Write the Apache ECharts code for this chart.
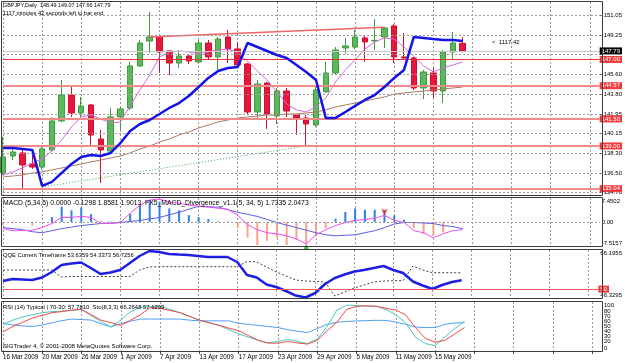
<!DOCTYPE html>
<html>
<head>
<meta charset="utf-8">
<script src="https://cdn.jsdelivr.net/npm/echarts@6/dist/echarts.min.js"></script>
<style>
  html, body { margin: 0; padding: 0; background: #fff; }
  #chart { width: 625px; height: 363px; }
</style>
</head>
<body>
<div id="chart"></div>
<script>
// GBPJPY daily bars, 16 Mar 2009 .. 20 May 2009
const dates = [
  "16 Mar 2009", "17 Mar 2009", "18 Mar 2009", "19 Mar 2009", "20 Mar 2009",
  "23 Mar 2009", "24 Mar 2009", "25 Mar 2009", "26 Mar 2009", "27 Mar 2009",
  "30 Mar 2009", "31 Mar 2009", "1 Apr 2009", "2 Apr 2009", "3 Apr 2009",
  "6 Apr 2009", "7 Apr 2009", "8 Apr 2009", "9 Apr 2009", "10 Apr 2009",
  "13 Apr 2009", "14 Apr 2009", "15 Apr 2009", "16 Apr 2009", "17 Apr 2009",
  "20 Apr 2009", "21 Apr 2009", "22 Apr 2009", "23 Apr 2009", "24 Apr 2009",
  "27 Apr 2009", "28 Apr 2009", "29 Apr 2009", "30 Apr 2009", "1 May 2009",
  "4 May 2009", "5 May 2009", "6 May 2009", "7 May 2009", "8 May 2009",
  "11 May 2009", "12 May 2009", "13 May 2009", "14 May 2009", "15 May 2009",
  "18 May 2009", "19 May 2009", "20 May 2009"
];
const futureSlots = 14;

const opens = [136.50, 138.07, 138.35, 137.33, 137.05, 138.63, 141.31, 143.71, 142.05, 142.79,
  139.64, 138.53, 141.68, 142.51, 146.40, 148.70, 149.08, 147.78, 146.67, 147.32,
  146.77, 148.52, 147.23, 149.08, 147.97, 146.58, 142.14, 144.82, 141.77, 144.08,
  141.86, 141.58, 140.94, 144.00, 145.75, 148.06, 148.15, 148.99, 148.72, 149.08,
  150.10, 147.23, 147.14, 144.36, 145.75, 144.08, 147.69, 148.49];
const closes = [137.98, 138.44, 137.24, 137.05, 138.72, 141.31, 143.71, 142.05, 142.70, 140.01,
  138.63, 141.68, 142.42, 146.40, 148.52, 149.08, 147.69, 146.67, 147.32, 146.86,
  148.52, 147.23, 148.89, 147.97, 146.49, 142.14, 144.73, 141.96, 144.08, 142.23,
  141.58, 141.03, 144.18, 145.75, 147.88, 148.25, 149.08, 148.62, 148.76, 149.91,
  147.23, 147.14, 144.36, 145.84, 144.08, 147.69, 148.52, 147.79];
const lows = [136.31, 137.70, 135.11, 136.87, 136.78, 138.44, 141.20, 141.68, 141.68, 138.90,
  135.57, 138.44, 140.48, 142.33, 146.30, 147.60, 145.75, 145.56, 146.21, 146.58,
  146.67, 146.95, 146.03, 146.67, 146.30, 141.86, 141.40, 140.57, 141.03, 141.68,
  140.01, 139.00, 140.75, 143.90, 145.56, 147.50, 147.97, 146.77, 147.88, 148.06,
  146.67, 146.95, 144.18, 143.34, 143.44, 142.97, 146.95, 147.66];
const highs = [139.83, 138.81, 138.81, 138.16, 138.90, 141.68, 145.10, 144.55, 143.53, 142.88,
  140.48, 142.51, 142.60, 146.77, 148.80, 151.39, 149.17, 147.87, 147.87, 147.41,
  148.80, 148.80, 149.08, 149.73, 148.62, 146.67, 145.10, 144.92, 144.36, 144.36,
  141.96, 141.86, 144.45, 146.77, 148.15, 148.99, 149.73, 149.26, 150.74, 150.00,
  150.28, 149.45, 147.23, 146.03, 146.21, 147.88, 149.54, 149.07];

// overlays on price
const blueTrail = [138.81, 138.81, 138.72, 138.63, 135.30, 135.67, 136.50, 137.33, 137.98, 138.16,
  138.07, 138.35, 139.27, 140.38, 141.03, 141.40, 141.95, 142.51, 142.97, 143.62,
  144.45, 145.29, 145.93, 146.21, 146.30, 148.52, 148.15, 147.78, 147.41, 147.14,
  146.49, 145.84, 145.10, 141.59, 141.59, 142.14, 142.70, 143.25, 143.71, 144.45,
  145.29, 146.03, 149.08, 148.99, 148.89, 148.80, 148.80, 148.71];
const fastMa = [136.31, 136.59, 136.96, 137.42, 137.79, 138.53, 139.55, 140.75, 141.68, 141.86,
  141.49, 141.12, 141.22, 142.70, 144.18, 145.56, 147.23, 147.69, 147.78, 147.69,
  147.51, 147.69, 147.88, 147.97, 147.60, 146.86, 145.93, 145.10, 143.99, 142.88,
  142.33, 142.14, 142.60, 143.44, 144.92, 146.03, 146.95, 147.97, 148.62, 148.99,
  148.89, 148.15, 147.32, 146.40, 145.84, 146.21, 146.49, 146.77];
const slowMa = [136.13, 136.22, 136.31, 136.50, 136.59, 136.78, 136.96, 137.15, 137.33, 137.52,
  137.70, 137.89, 138.07, 138.35, 138.72, 138.99, 139.36, 139.64, 140.01, 140.29,
  140.66, 140.94, 141.22, 141.40, 141.59, 141.68, 141.77, 141.86, 141.86, 141.96,
  141.96, 142.05, 142.14, 142.33, 142.60, 142.79, 142.97, 143.16, 143.34, 143.53,
  143.80, 143.90, 143.99, 144.08, 144.18, 144.27, 144.36, 144.45];
const supportTrend = [[4, 135.20], [31, 139.00]];
const resistTrend = [[15, 149.07], [39, 149.98]];

const levelLines = [147.00, 144.57, 141.50, 139.00, 135.04];
const bidPrice = 147.79;
const priceGrid = [134.70, 136.50, 138.30, 140.15, 141.95, 143.80, 145.60, 147.45, 149.25, 151.05];
const priceLabels = [134.70, 136.50, 138.30, 140.15, 141.95, 143.80, 145.60, 149.25, 151.05];

// MACD divergence panel
const macdHist = [-0.9, -0.4, 0, -1.1, 0, 1.5, 4.7, 3.6, 4.5, 2.4,
  0.2, 0.1, 0.3, 2.5, 5.5, 6.8, 6.3, 4.2, 3.6, 2.1,
  1.5, 0.9, 0.2, 0.1, -1.9, -4.9, -7.2, -5.9, -4.9, -7.2,
  -5.7, -7.0, -4.5, -1.9, 1.0, 3.1, 4.2, 3.8, 3.8, 3.6,
  2.0, 0.7, -1.9, -3.8, -4.3, -3.3, -0.6, -0.3];
const macdMain = [-2.10, -2.74, -2.74, -2.58, -1.78, -0.51, 1.40, 1.40, 1.72, 1.40,
  -0.51, -0.51, -0.19, 2.68, 5.22, 6.82, 7.13, 6.18, 5.86, 5.22,
  4.90, 4.59, 4.27, 3.95, 2.04, -0.83, -2.42, -3.38, -3.69, -4.33,
  -5.29, -6.88, -4.01, -2.42, -1.15, -0.19, 0.45, 0.76, 1.08, 2.04,
  0.45, -0.19, -2.74, -3.38, -4.97, -3.69, -2.74, -2.42];
const macdSignal = [-1.78, -2.10, -2.42, -3.06, -3.38, -2.74, -2.10, -1.62, -1.15, -0.83,
  -0.51, -0.35, -0.19, 0.13, 0.45, 0.92, 1.40, 2.20, 2.99, 3.95,
  4.90, 4.75, 4.59, 3.79, 2.99, 2.36, 1.72, 0.76, -0.19, -0.99,
  -1.78, -2.58, -3.38, -4.01, -4.33, -4.17, -4.01, -3.38, -2.74, -1.78,
  -0.67, -0.19, -0.19, -0.35, -0.51, -1.15, -1.46, -2.10];
const bullArrow = [[31, -7.0]];
const bearArrow = [[39, 2.2]];

// QQE panel
const qqeFast = [53.36, 54.19, 53.99, 53.78, 54.81, 57.09, 59.99, 60.61, 61.02, 58.75,
  56.26, 56.88, 57.92, 60.82, 63.71, 65.78, 65.37, 64.54, 64.33, 64.13,
  63.71, 63.30, 63.30, 63.30, 61.23, 55.85, 54.81, 51.92, 50.88, 49.23,
  47.36, 46.54, 48.40, 52.12, 54.61, 56.05, 57.30, 57.92, 58.75, 59.57,
  57.92, 56.68, 53.16, 51.50, 50.05, 51.71, 52.95, 53.64];
const qqeSlow = [57.92, 57.92, 57.92, 57.92, 57.92, 57.92, 55.02, 55.23, 55.23, 55.23,
  55.23, 55.23, 55.23, 55.23, 57.92, 59.16, 59.28, 59.28, 59.28, 59.28,
  59.28, 59.28, 59.28, 59.28, 59.28, 61.44, 61.23, 59.16, 57.09, 55.43,
  53.78, 53.36, 53.16, 52.95, 47.16, 48.81, 50.47, 51.71, 52.95, 53.36,
  53.49, 53.57, 59.57, 57.92, 56.80, 56.80, 56.80, 56.73];
const qqeLevel = 50;

// RSI / Stochastic panel
const rsi = [55.9, 53.3, 51.1, 50.0, 53.3, 57.6, 62.0, 65.2, 64.1, 63.0,
  55.4, 48.9, 56.1, 60.9, 65.2, 65.2, 65.2, 65.2, 65.2, 63.0,
  61.5, 61.5, 61.5, 61.5, 56.5, 54.3, 52.2, 50.0, 47.8, 43.5,
  40.2, 37.6, 45.7, 54.3, 58.7, 60.2, 61.3, 62.0, 62.6, 62.4,
  59.1, 54.3, 48.9, 47.8, 47.8, 54.3, 57.2, 57.8];
const stoSignal = [39.1, 50.0, 58.7, 67.4, 72.8, 78.3, 80.4, 83.7, 84.8, 73.9,
  63.0, 57.6, 52.2, 63.0, 73.9, 89.1, 87.0, 82.6, 78.3, 70.7,
  63.0, 57.6, 52.2, 46.7, 41.3, 31.5, 21.7, 16.3, 15.9, 19.6,
  16.3, 14.1, 21.7, 41.3, 58.7, 84.8, 91.3, 92.0, 91.3, 87.0,
  83.7, 73.9, 47.8, 26.1, 18.0, 21.7, 34.8, 47.8];
const stoMain = [54.3, 63.0, 69.6, 73.9, 78.3, 80.4, 81.5, 82.6, 84.8, 71.7,
  59.8, 48.9, 63.0, 80.4, 89.1, 90.2, 91.3, 84.8, 78.3, 70.7,
  63.0, 57.6, 52.2, 43.5, 34.8, 28.3, 21.7, 16.3, 19.6, 23.9,
  19.6, 15.2, 23.9, 50.0, 83.7, 93.5, 92.8, 92.0, 91.3, 84.8,
  73.9, 57.6, 28.3, 15.2, 10.9, 28.3, 45.7, 60.9];
const rsiLabels = [100, 90, 80, 70, 60, 50, 40, 30, 20, 10, 0];

const FONT = "Liberation Sans, Arial, sans-serif";
const GRID_DASH = { color: "#9a9a9a", type: [2, 2], width: 1 };

const cats = dates.concat(new Array(futureSlots).fill(""));
const panels = [
  { top: 2, height: 193 },
  { top: 198, height: 48 },
  { top: 250, height: 48 },
  { top: 302, height: 49 },
];

const chart = echarts.init(document.getElementById("chart"));

function xAxisFor(i) {
  const last = i === panels.length - 1;
  return {
    type: "category",
    gridIndex: i,
    data: cats,
    boundaryGap: false,
    axisLine: { show: false },
    axisTick: last ? { show: true, interval: 3, length: 3, lineStyle: { color: "#444" } } : { show: false },
    axisLabel: last
      ? { show: true, interval: 3, align: "left", margin: 3, fontSize: 6.3, fontFamily: FONT, color: "#000" }
      : { show: false },
    splitLine: { show: true, interval: 3, lineStyle: GRID_DASH },
  };
}

function sideAxis(i, min, max, labels, fmt) {
  return {
    type: "value", gridIndex: i, position: "right", min: min, max: max,
    axisLine: { show: false }, axisTick: { show: false },
    axisLabel: {
      customValues: labels, margin: 2, fontSize: 6, fontFamily: FONT, color: "#000",
      showMinLabel: true, showMaxLabel: true,
      verticalAlignMaxLabel: "bottom", verticalAlignMinLabel: "top",
      formatter: fmt,
    },
    splitLine: { show: false },
  };
}

function levelMark(v, color, width, boxColor) {
  return {
    yAxis: v,
    lineStyle: { color: color, width: width, type: "solid" },
    label: {
      show: true, position: "end", distance: 0, formatter: v.toFixed(2),
      color: "#fff", backgroundColor: boxColor, padding: [1, 2, 0, 2],
      fontSize: 6, fontFamily: FONT,
    },
  };
}

function caption(x, y, text, size) {
  return { type: "text", z: 60, x: x, y: y, silent: true,
    style: { text: text, fontSize: size, fontFamily: FONT, fill: "#000" } };
}

const candleData = dates.map((d, i) => [opens[i], closes[i], lows[i], highs[i]]);

const option = {
  animation: false,
  backgroundColor: "#fff",
  grid: panels.map((p) => ({ left: 3, width: 599, top: p.top, height: p.height, show: false })),
  xAxis: panels.map((p, i) => xAxisFor(i)),
  yAxis: [
    {
      type: "value", gridIndex: 0, position: "right", min: 134.46, max: 152.315,
      axisLine: { show: false },
      axisTick: { show: true, customValues: priceGrid, length: 2, lineStyle: { color: "#666" } },
      axisLabel: { customValues: priceLabels, margin: 4, fontSize: 6, fontFamily: FONT, color: "#000",
        showMinLabel: true, showMaxLabel: true, formatter: (v) => v.toFixed(2) },
      splitLine: { show: false },
    },
    sideAxis(1, -7.5157, 7.4502, [7.4502, 0, -7.5157], (v) => (v === 0 ? "0.00" : v.toFixed(4))),
    sideAxis(2, 46.3295, 66.1955, [66.1955, 46.3295], (v) => v.toFixed(4)),
    sideAxis(3, 0, 100, rsiLabels, (v) => String(v)),
  ],
  series: [
    // price grid lines and horizontal levels
    {
      type: "line", xAxisIndex: 0, yAxisIndex: 0, data: [], z: 1,
      markLine: {
        silent: true, symbol: ["none", "none"], animation: false,
        label: { show: false },
        lineStyle: GRID_DASH,
        data: priceGrid.map((v) => ({ yAxis: v })),
      },
    },
    {
      type: "line", xAxisIndex: 0, yAxisIndex: 0, data: [], z: 2,
      markLine: {
        silent: true, symbol: ["none", "none"], animation: false,
        data: levelLines.map((v, i) =>
          i === 0 ? levelMark(v, "#ee3030", 1, "#f03c3c") : levelMark(v, "#f38a8a", 2, "#f03c3c")
        ).concat([levelMark(bidPrice, "#c8c8c8", 1, "#000")]),
      },
    },
    {
      type: "candlestick", xAxisIndex: 0, yAxisIndex: 0, data: candleData, barWidth: 6, z: 3,
      itemStyle: { color: "#5cb85c", color0: "#e8163c", borderColor: "#3f9a3f", borderColor0: "#cc1030", borderWidth: 1 },
    },
    { type: "line", xAxisIndex: 0, yAxisIndex: 0, data: slowMa, symbol: "none", z: 4,
      lineStyle: { color: "#b07a62", width: 1 } },
    { type: "line", xAxisIndex: 0, yAxisIndex: 0, data: fastMa, symbol: "none", z: 4,
      lineStyle: { color: "#d868dc", width: 1 } },
    { type: "line", xAxisIndex: 0, yAxisIndex: 0, data: supportTrend, symbol: "none", z: 4,
      lineStyle: { color: "#3cab46", width: 1, type: [1, 2] } },
    { type: "line", xAxisIndex: 0, yAxisIndex: 0, data: resistTrend, symbol: "none", z: 4,
      lineStyle: { color: "#f06464", width: 1.5 } },
    { type: "line", xAxisIndex: 0, yAxisIndex: 0, data: blueTrail, symbol: "none", z: 5,
      lineStyle: { color: "#1414e6", width: 2.5 } },

    // MACD
    {
      type: "line", xAxisIndex: 1, yAxisIndex: 1, data: [], z: 1,
      markLine: { silent: true, symbol: ["none", "none"], label: { show: false }, lineStyle: GRID_DASH,
        data: [{ yAxis: 0 }] },
    },
    {
      type: "bar", xAxisIndex: 1, yAxisIndex: 1, data: macdHist, barWidth: 2, z: 2,
      itemStyle: { color: (p) => (p.value >= 0 ? "#2b80e4" : "#f5a28e") },
    },
    { type: "line", xAxisIndex: 1, yAxisIndex: 1, data: macdSignal, symbol: "none", z: 3,
      lineStyle: { color: "#5c5ce6", width: 1 } },
    { type: "line", xAxisIndex: 1, yAxisIndex: 1, data: macdMain, symbol: "none", z: 3,
      lineStyle: { color: "#f04cf0", width: 1 } },
    { type: "scatter", xAxisIndex: 1, yAxisIndex: 1, data: bullArrow, symbol: "arrow", symbolSize: [5, 6], z: 4,
      itemStyle: { color: "#1a9a1a" } },
    { type: "scatter", xAxisIndex: 1, yAxisIndex: 1, data: bearArrow, symbol: "arrow", symbolSize: [5, 6],
      symbolRotate: 180, z: 4, itemStyle: { color: "#e02020" } },

    // QQE
    {
      type: "line", xAxisIndex: 2, yAxisIndex: 2, data: [], z: 1,
      markLine: { silent: true, symbol: ["none", "none"],
        data: [{
          yAxis: qqeLevel, lineStyle: { color: "#f05a5a", width: 1, type: "solid" },
          label: { show: true, position: "end", distance: 0, formatter: String(qqeLevel), color: "#fff",
            backgroundColor: "#f03c3c", padding: [1, 2, 0, 2], fontSize: 6, fontFamily: FONT },
        }] },
    },
    { type: "line", xAxisIndex: 2, yAxisIndex: 2, data: qqeSlow, symbol: "none", z: 2,
      lineStyle: { color: "#404040", width: 1, type: [2, 2] } },
    { type: "line", xAxisIndex: 2, yAxisIndex: 2, data: qqeFast, symbol: "none", z: 3,
      lineStyle: { color: "#1e1ee6", width: 2.5 } },

    // RSI + Stochastic
    { type: "line", xAxisIndex: 3, yAxisIndex: 3, data: rsi, symbol: "none", z: 2,
      lineStyle: { color: "#4f9ef2", width: 1 } },
    { type: "line", xAxisIndex: 3, yAxisIndex: 3, data: stoMain, symbol: "none", z: 2,
      lineStyle: { color: "#4cc8be", width: 1 } },
    { type: "line", xAxisIndex: 3, yAxisIndex: 3, data: stoSignal, symbol: "none", z: 3,
      lineStyle: { color: "#f04a4a", width: 1 } },
  ],
  graphic: [
    ...panels.map((p) => ({
      type: "rect", z: 50, silent: true,
      shape: { x: 1.5, y: p.top - 0.5, width: 601, height: p.height + 1 },
      style: { fill: "none", stroke: "#3c3c3c", lineWidth: 1 },
    })),
    caption(3, 3, "GBPJPY,Daily  148.49 149.07 147.66 147.79", 5.4),
    caption(3, 10, "1117 minutes 42 seconds left to bar end", 5.7),
    caption(492, 39, "<  1117:42", 6),
    caption(3, 200, "MACD (5,34,5) 0.0000 -0.1298 1.8581 1.9013  FX5_MACD_Divergence_v1.1(5, 34, 5) 1.7335 2.0473", 6.8),
    caption(3, 252, "QQE Current Timeframe 53.6359 54.3373 56.7256", 5.8),
    caption(3, 304, "RSI (14) Typical | 70-30: 57.7810  Sto(8,3,3) 66.2648 57.1299", 5.9),
    caption(3, 343, "SIGTrader 4, \u00a9 2001-2008 MetaQuotes Software Corp.", 6.1),
  ],
};

chart.setOption(option);
</script>
</body>
</html>
